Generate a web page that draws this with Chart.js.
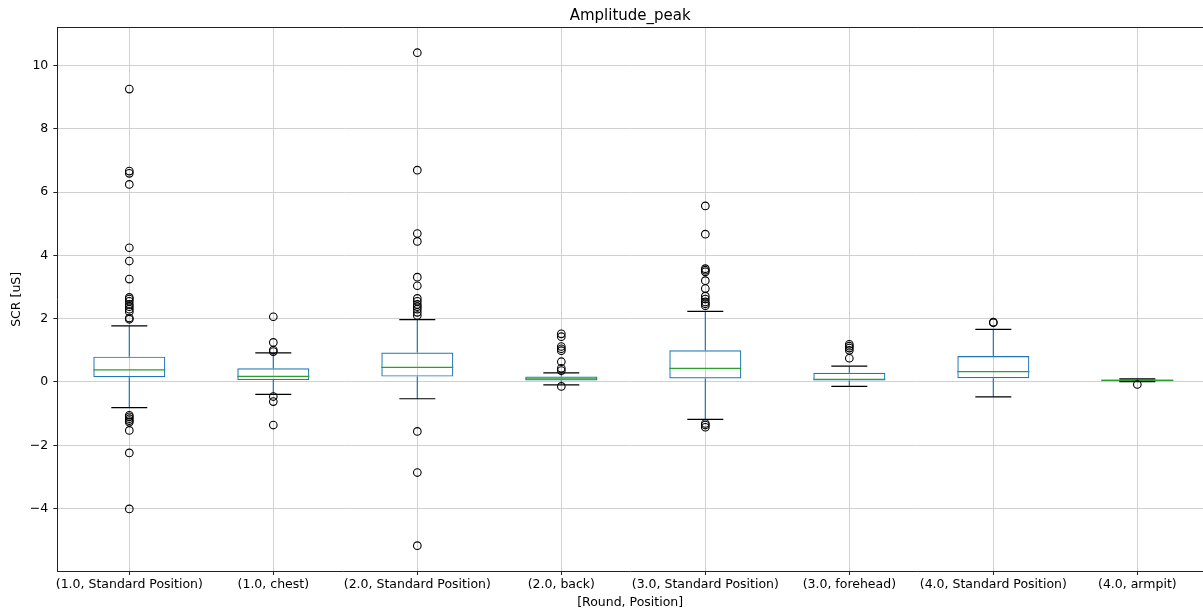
<!DOCTYPE html>
<html>
<head>
<meta charset="utf-8">
<title>Amplitude_peak</title>
<script src="https://cdn.jsdelivr.net/npm/chart.js@4/dist/chart.umd.min.js"></script>
<style>
  html, body { margin: 0; padding: 0; background: #fff; }
</style>
</head>
<body>
<canvas id="box" width="1203" height="614"></canvas>
<script>
// box statistics per group
const categories = ['(1.0, Standard Position)', '(1.0, chest)', '(2.0, Standard Position)', '(2.0, back)',
                    '(3.0, Standard Position)', '(3.0, forehead)', '(4.0, Standard Position)', '(4.0, armpit)'];
const q1 = [0.15, 0.06, 0.17, 0.05, 0.11, 0.05, 0.12, 0.02];
const median = [0.38, 0.18, 0.46, 0.10, 0.43, 0.08, 0.33, 0.05];
const q3 = [0.80, 0.43, 0.93, 0.17, 1.00, 0.29, 0.82, 0.08];
const whiskerLow = [-0.81, -0.39, -0.53, -0.09, -1.18, -0.14, -0.47, 0.01];
const whiskerHigh = [1.77, 0.92, 1.97, 0.29, 2.23, 0.50, 1.66, 0.10];
const outliers = [
    [9.25, 6.66, 6.59, 6.24, 4.24, 3.82, 3.25, 2.67, 2.62, 2.55, 2.45, 2.38, 2.30, 2.22, 2.02, 1.98,
     -1.05, -1.10, -1.16, -1.22, -1.27, -1.53, -2.24, -4.01],
    [2.06, 1.25, 1.01, 0.96, -0.46, -0.62, -1.36],
    [10.40, 6.69, 4.69, 4.44, 3.31, 3.04, 2.64, 2.55, 2.45, 2.38, 2.30, 2.20, 2.10, -1.56, -2.86, -5.17],
    [1.52, 1.43, 1.12, 1.05, 0.99, 0.64, 0.43, 0.36, -0.14],
    [5.56, 4.67, 3.58, 3.53, 3.48, 3.20, 2.95, 2.71, 2.62, 2.53, 2.47, 2.41, -1.31, -1.36, -1.43],
    [1.19, 1.13, 1.07, 1.00, 0.75],
    [1.89, 1.87],
    [-0.08]
];
const yTicks = [-4, -2, 0, 2, 4, 6, 8, 10];

const BLUE = '#1f77b4', GREEN = '#2ca02c', INK = '#000';
const BOX_HALF = 0.25, CAP_HALF = 0.125;
// the figure is cut at the right, a little before the x limit of 8.5
const X_MIN = 0.5, X_MAX = 8.456;

Chart.defaults.font.family = "'DejaVu Sans', sans-serif";

const pos = categories.map((c, i) => i + 1);

// build line segments separated by gaps
function segs(fn) {
    const pts = [];
    pos.forEach((x, i) => {
        fn(x, i).forEach(p => pts.push(p));
        pts.push({ x: x, y: null });
    });
    return pts;
}

const flierPts = [];
outliers.forEach((arr, i) => arr.forEach(v => flierPts.push({ x: pos[i], y: v })));

const capPts = segs((x, i) => [
    { x: x - CAP_HALF, y: whiskerHigh[i] }, { x: x + CAP_HALF, y: whiskerHigh[i] }, { x: x, y: null },
    { x: x - CAP_HALF, y: whiskerLow[i] }, { x: x + CAP_HALF, y: whiskerLow[i] }
]);
const medPts = segs((x, i) => [{ x: x - BOX_HALF, y: median[i] }, { x: x + BOX_HALF, y: median[i] }]);
const whiskPts = segs((x, i) => [
    { x: x, y: q3[i] }, { x: x, y: whiskerHigh[i] }, { x: x, y: null },
    { x: x, y: q1[i] }, { x: x, y: whiskerLow[i] }
]);

const lineDs = (data, color) => ({
    type: 'line', data: data, borderColor: color, borderWidth: 1.2,
    pointRadius: 0, spanGaps: false, fill: false, tension: 0
});

const gridCol = '#d0d0d0';
const tickFont = { size: 12.5 };

new Chart(document.getElementById('box'), {
    type: 'bar',
    data: {
        datasets: [
            {
                type: 'line', data: flierPts, showLine: false,
                pointRadius: 3.8, pointBorderWidth: 1.1,
                pointBorderColor: INK, pointBackgroundColor: 'rgba(0,0,0,0)'
            },
            lineDs(capPts, INK),
            lineDs(medPts, GREEN),
            lineDs(whiskPts, BLUE),
            {
                type: 'bar',
                data: pos.map((x, i) => ({ x: x, y: [q1[i], q3[i]] })),
                borderColor: BLUE, borderWidth: 1.2, borderSkipped: false,
                backgroundColor: 'rgba(0,0,0,0)',
                barPercentage: 0.5, categoryPercentage: 1.0
            }
        ]
    },
    options: {
        responsive: false,
        animation: false,
        layout: { padding: 0, autoPadding: false },
        plugins: { legend: { display: false }, tooltip: { enabled: false } },
        scales: {
            x: {
                type: 'linear', min: X_MIN, max: X_MAX, offset: false,
                afterBuildTicks: s => { s.ticks = pos.map(v => ({ value: v })); },
                afterFit: s => { s.height = 43; },
                ticks: {
                    callback: v => categories[v - 1], color: INK, font: tickFont,
                    padding: 2, maxRotation: 0, minRotation: 0, autoSkip: false
                },
                grid: { color: gridCol, lineWidth: 1, tickLength: 4, tickColor: '#222', offset: false },
                border: { color: '#222', width: 1 },
                title: { display: true, text: '[Round, Position]', color: INK, font: tickFont,
                         padding: { top: 0, bottom: 3.5 } }
            },
            xTop: {
                type: 'linear', position: 'top', min: 0, max: 1,
                afterFit: s => { s.height = 27.7; },
                ticks: { display: false },
                grid: { display: false, drawTicks: false },
                border: { color: '#222', width: 1 },
                title: { display: true, text: 'Amplitude_peak', color: INK, font: { size: 15 },
                         padding: { top: 7, bottom: 0 } }
            },
            y: {
                type: 'linear', min: -5.97, max: 11.19,
                afterBuildTicks: s => { s.ticks = yTicks.map(v => ({ value: v })); },
                afterFit: s => { s.width = 57.3; },
                ticks: {
                    callback: v => (v < 0 ? '\u2212' + Math.abs(v) : String(v)),
                    color: INK, font: tickFont, padding: 5
                },
                grid: { color: gridCol, lineWidth: 1, tickLength: 4, tickColor: '#222' },
                border: { color: '#222', width: 1 },
                title: { display: true, text: 'SCR [uS]', color: INK, font: tickFont,
                         padding: { top: 9, bottom: 0 } }
            }
        }
    }
});
</script>
</body>
</html>
